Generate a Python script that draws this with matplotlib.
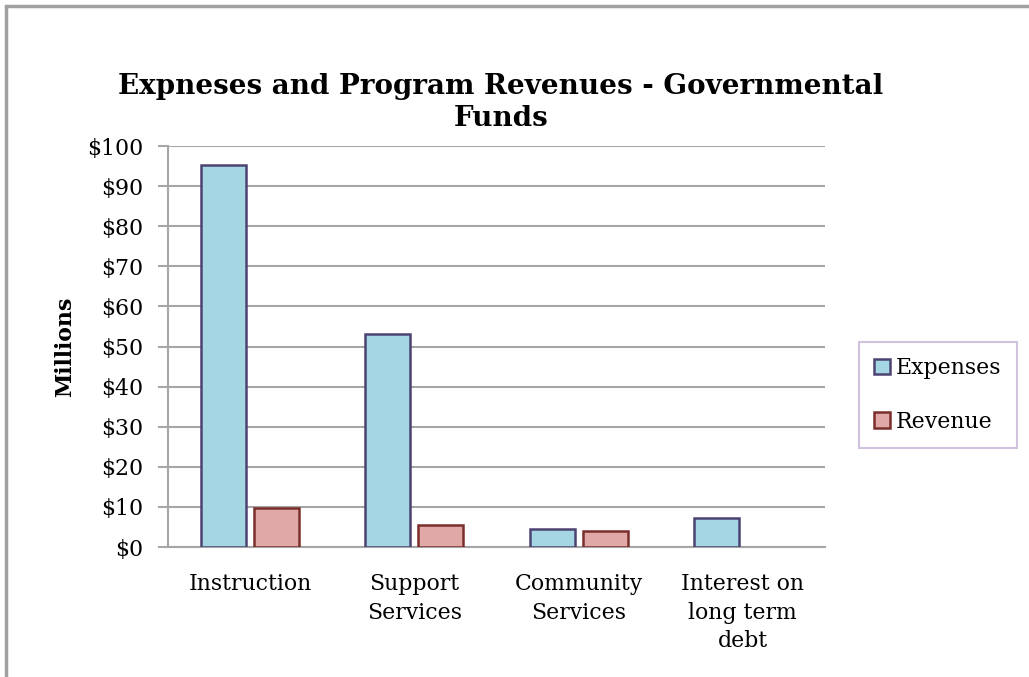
import matplotlib

matplotlib.use("Agg")
import matplotlib.pyplot as plt
import numpy as np
from matplotlib.patches import Rectangle
from matplotlib.ticker import FuncFormatter

CATEGORIES = ["Instruction", "Support\nServices", "Community\nServices", "Interest on\nlong term\ndebt"]
EXPENSES = [95.3, 53.1, 4.5, 7.2]
REVENUE = [9.8, 5.6, 4.1, 0.0]

EXP_FILL, EXP_EDGE = "#a5d6e3", "#4d4373"
REV_FILL, REV_EDGE = "#e0a8a7", "#7b2f2c"
GRID = "#a6a6a6"
FS = 15.8

plt.rcParams["font.family"] = ["DejaVu Serif"]

fig = plt.figure(figsize=(10.29, 6.77), dpi=100)
fig.patches.append(Rectangle((6 / 1029, -0.1), 1.2, 1.1 - 6 / 677, transform=fig.transFigure,
                             fill=False, edgecolor="#a0a0a0", linewidth=2.5))
ax = fig.add_axes([0.1633, 0.192, 0.6384, 0.5923])

x = np.arange(len(CATEGORIES))
width = 0.274
gap = 0.05
rev_mask = np.array(REVENUE) > 0
ax.bar(x - (width + gap) / 2, EXPENSES, width, color=EXP_FILL, edgecolor=EXP_EDGE,
       linewidth=1.8, label="Expenses", zorder=3)
ax.bar(x[rev_mask] + (width + gap) / 2, np.array(REVENUE)[rev_mask], width, color=REV_FILL,
       edgecolor=REV_EDGE, linewidth=1.8, label="Revenue", zorder=3)

ax.set_xlim(-0.5, len(CATEGORIES) - 0.5)
ax.set_ylim(0, 100)
ax.set_yticks(np.arange(0, 101, 10))
ax.yaxis.set_major_formatter(FuncFormatter(lambda v, _: f"${v:.0f}"))
ax.set_xticks(x)
ax.set_xticklabels(CATEGORIES, fontsize=FS, linespacing=1.38, va="top")
ax.tick_params(axis="x", length=0, pad=19)
ax.tick_params(axis="y", length=7, width=1.5, color=GRID, labelsize=FS, pad=11)
ax.grid(axis="y", color=GRID, linewidth=1.5, zorder=0)
ax.set_axisbelow(True)
for side in ("top", "right"):
    ax.spines[side].set_visible(False)
for side in ("left", "bottom"):
    ax.spines[side].set_color(GRID)
    ax.spines[side].set_linewidth(1.5)

ax.set_ylabel("Millions", fontsize=FS, fontweight="bold", labelpad=8)
fig.text(0.487, 0.849, "Expneses and Program Revenues - Governmental\nFunds", ha="center",
         va="center", fontsize=20, fontweight="bold", linespacing=1.25)

leg = ax.legend(loc="center left", bbox_to_anchor=(1.052, 0.379), fontsize=FS, frameon=True,
                fancybox=False, handlelength=0.72, handleheight=0.72, handletextpad=0.27,
                labelspacing=1.45, borderpad=0.7, borderaxespad=0)
leg.get_frame().set_edgecolor("#c6b4d8")
leg.get_frame().set_linewidth(1.5)

fig.savefig("out.png", dpi=100)
